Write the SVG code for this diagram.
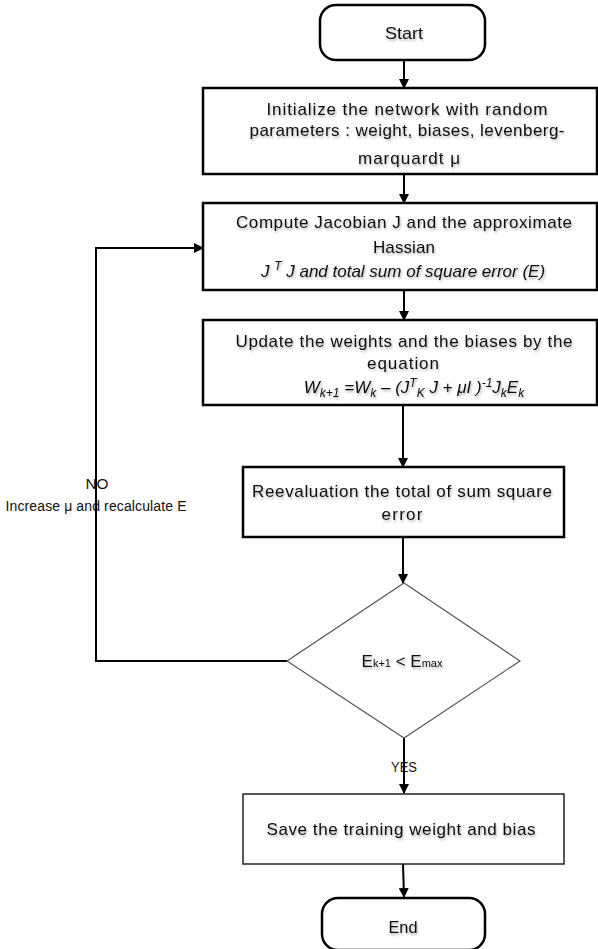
<svg xmlns="http://www.w3.org/2000/svg" width="598" height="949" viewBox="0 0 598 949">
<style>
  .box { fill: #ffffff; stroke: #000000; stroke-width: 2.5; }
  .thin { fill: #ffffff; stroke: #222222; stroke-width: 1.5; }
  .dia { fill: #ffffff; stroke: #555555; stroke-width: 1.2; }
  .term { fill: #ffffff; stroke: #000000; stroke-width: 2.5; }
  .t { font-family: "Liberation Sans", Arial, sans-serif; font-size: 17px; fill: #111111; text-anchor: middle; }
  .sh { filter: url(#tsh); }
  .lbl { font-family: "Liberation Sans", Arial, sans-serif; font-size: 14px; fill: #111111; text-anchor: middle; }
  .conn { fill: none; stroke: #000000; stroke-width: 2; }
</style>
<defs>
  <marker id="arr" markerWidth="10" markerHeight="10" refX="9" refY="5" orient="auto" markerUnits="userSpaceOnUse">
    <path d="M0,0 L10,5 L0,10 Z" fill="#000000"/>
  </marker>
  <filter id="tsh" x="-10%" y="-30%" width="120%" height="170%">
    <feDropShadow dx="1" dy="2" stdDeviation="1.2" flood-color="#000000" flood-opacity="0.3"/>
  </filter>
</defs>

<g id="connectors">
  <line class="conn" x1="404" y1="60" x2="404" y2="88" marker-end="url(#arr)"/>
  <line class="conn" x1="404" y1="174" x2="404" y2="203" marker-end="url(#arr)"/>
  <line class="conn" x1="404" y1="290" x2="404" y2="320" marker-end="url(#arr)"/>
  <line class="conn" x1="403" y1="405" x2="403" y2="467" marker-end="url(#arr)"/>
  <line class="conn" x1="403" y1="537" x2="403" y2="583" marker-end="url(#arr)"/>
  <line class="conn" x1="404" y1="738" x2="404" y2="793" marker-end="url(#arr)"/>
  <line class="conn" x1="403" y1="864" x2="404" y2="897" marker-end="url(#arr)"/>
  <polyline class="conn" points="287,661 96,661 96,248 203,248" marker-end="url(#arr)"/>
  <text class="lbl" x="97" y="489" textLength="23" lengthAdjust="spacingAndGlyphs">NO</text>
  <text class="lbl" x="96" y="511" textLength="181">Increase μ and recalculate E</text>
  <text class="lbl" x="404" y="772" textLength="26" lengthAdjust="spacingAndGlyphs">YES</text>
</g>

<g id="start">
  <rect class="term" x="320" y="5" width="165" height="55" rx="16"/>
  <text class="t sh" x="404" y="39" textLength="38" lengthAdjust="spacingAndGlyphs">Start</text>
</g>

<g id="init">
  <rect class="box" x="203" y="88" width="394" height="86"/>
  <text class="t sh" x="407" y="115" font-size="16px" textLength="281">Initialize the network with random</text>
  <text class="t sh" x="407" y="136" font-size="16px" textLength="315">parameters : weight, biases, levenberg-</text>
  <text class="t sh" x="409" y="164" font-size="16px" textLength="102">marquardt μ</text>
</g>

<g id="jacobian">
  <rect class="box" x="203" y="203" width="394" height="87"/>
  <text class="t sh" x="404" y="228" textLength="336">Compute Jacobian J and the approximate</text>
  <text class="t sh" x="404" y="253" textLength="62">Hassian</text>
  <text class="t sh" x="403" y="277" font-style="italic" font-size="18px">J <tspan font-size="12" dy="-7">T</tspan><tspan dy="7"> J and total sum of square error (E)</tspan></text>
</g>

<g id="update">
  <rect class="box" x="203" y="320" width="394" height="85"/>
  <text class="t sh" x="404" y="347" textLength="337">Update the weights and the biases by the</text>
  <text class="t sh" x="403" y="369" textLength="72">equation</text>
  <text class="t sh" x="414" y="393" font-style="italic" font-size="17px">W<tspan font-size="12" dy="4">k+1</tspan><tspan dy="-4"> =W</tspan><tspan font-size="12" dy="4">k</tspan><tspan dy="-4"> – (J</tspan><tspan font-size="12" dy="-6">T</tspan><tspan font-size="12" dy="10">K</tspan><tspan dy="-4"> J + μI )</tspan><tspan font-size="12" dy="-6">-1</tspan><tspan dy="6">J</tspan><tspan font-size="12" dy="4">k</tspan><tspan dy="-4">E</tspan><tspan font-size="12" dy="4">k</tspan></text>
</g>

<g id="reeval">
  <rect class="box" x="243" y="467" width="321" height="70"/>
  <text class="t sh" x="402" y="497" textLength="300">Reevaluation the total of sum square</text>
  <text class="t sh" x="402" y="520" textLength="41">error</text>
</g>

<g id="decision">
  <polygon class="dia" points="404,583 520,661 404,738 287,661"/>
  <text class="t sh" x="402" y="667" font-size="16px">E<tspan font-size="11">k+1</tspan> &lt; E<tspan font-size="11">max</tspan></text>
</g>

<g id="save">
  <rect class="thin" x="243" y="794" width="321" height="70"/>
  <text class="t sh" x="401" y="835" textLength="269">Save the training weight and bias</text>
</g>

<g id="end">
  <rect class="term" x="322" y="898" width="163" height="52" rx="16"/>
  <text class="t sh" x="403" y="933" textLength="29" lengthAdjust="spacingAndGlyphs">End</text>
</g>
</svg>
